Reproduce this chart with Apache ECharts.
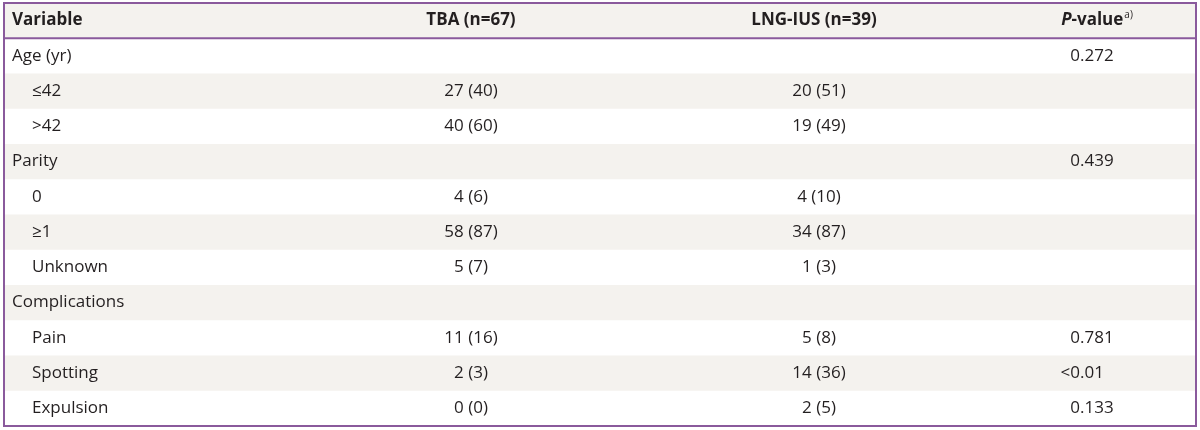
<!DOCTYPE html>
<html>
<head>
<meta charset="utf-8">
<script src="https://cdn.jsdelivr.net/npm/echarts@6/dist/echarts.min.js"></script>
<style>
html,body{margin:0;padding:0;background:#fff;}
#chart{width:1200px;height:430px;}
</style>
</head>
<body>
<div id="chart"></div>
<script>
// ---- data ----
const headers = ["Variable", "TBA (n=67)", "LNG-IUS (n=39)", "P-value"];
const variables = ["Age (yr)", "≤42", ">42", "Parity", "0", "≥1", "Unknown", "Complications", "Pain", "Spotting", "Expulsion"];
const indentLevel = [0, 1, 1, 0, 1, 1, 1, 0, 1, 1, 1];
const tbaValues = ["", "27 (40)", "40 (60)", "", "4 (6)", "58 (87)", "5 (7)", "", "11 (16)", "2 (3)", "0 (0)"];
const lngValues = ["", "20 (51)", "19 (49)", "", "4 (10)", "34 (87)", "1 (3)", "", "5 (8)", "14 (36)", "2 (5)"];
const pValues = ["0.272", "", "", "0.439", "", "", "", "", "0.781", "<0.01", "0.133"];
const pSuperscript = "a)";

// ---- layout / style (not data) ----
const rowKeys = ["header"].concat(variables.map((v, i) => "r" + i));
const COL = { varX: 12, indentX: 32, tbaC: 471, lngC: 819, lngHeadC: 814, pDec: 1080, pHeadC: 1097 };
const TXT = "#231f20";
const STRIPE = "#f4f2ee";
const PURPLE = "#8a5a9c";
const FONT = "'Open Sans', 'Noto Sans', sans-serif";
const FS = 17;

const chart = echarts.init(document.getElementById('chart'), null, { renderer: 'canvas' });

function txt(text, x, y, align, bold) {
  return {
    type: 'text',
    style: {
      text: text, x: x, y: y,
      align: align, verticalAlign: 'middle',
      textAlign: align, textVerticalAlign: 'middle',
      fill: TXT,
      font: (bold ? 'bold ' : '') + FS + 'px ' + FONT
    }
  };
}

function renderItem(params, api) {
  const row = api.value(1);
  const c = api.coord([4, row]);
  const band = api.size([0, 1])[1];
  const cy = c[1];
  const top = cy - band / 2;
  const yT = cy;
  const X = v => api.coord([v, row])[0];
  const children = [];
  if (row % 2 === 0) {
    children.push({
      type: 'rect',
      shape: { x: params.coordSys.x, y: top, width: params.coordSys.width, height: band },
      style: { fill: STRIPE }
    });
  }
  if (row === 0) {
    children.push(txt(headers[0], X(COL.varX), yT, 'left', true));
    children.push(txt(headers[1], X(COL.tbaC), yT, 'center', true));
    children.push(txt(headers[2], X(COL.lngHeadC), yT, 'center', true));
    children.push({
      type: 'text',
      style: {
        text: '{i|P}{b|-value}{s|' + pSuperscript + '}',
        x: X(COL.pHeadC), y: yT,
        align: 'center', verticalAlign: 'middle',
        textAlign: 'center', textVerticalAlign: 'middle',
        rich: {
          i: { font: 'italic bold ' + FS + 'px ' + FONT, fill: TXT },
          b: { font: 'bold ' + FS + 'px ' + FONT, fill: TXT },
          s: { font: '10px ' + FONT, fill: TXT, verticalAlign: 'top', padding: [0, 0, 10, 1] }
        }
      }
    });
    children.push({
      type: 'line',
      shape: { x1: params.coordSys.x, y1: top + band, x2: params.coordSys.x + params.coordSys.width, y2: top + band },
      style: { stroke: PURPLE, lineWidth: 2 }
    });
  } else {
    const i = row - 1;
    children.push(txt(variables[i], X(indentLevel[i] ? COL.indentX : COL.varX), yT, 'left', false));
    if (tbaValues[i]) children.push(txt(tbaValues[i], X(COL.tbaC), yT, 'center', false));
    if (lngValues[i]) children.push(txt(lngValues[i], X(COL.lngC), yT, 'center', false));
    if (pValues[i]) {
      const s = pValues[i];
      const k = s.indexOf('.');
      children.push(txt(s.slice(0, k), X(COL.pDec), yT, 'right', false));
      children.push(txt(s.slice(k), X(COL.pDec), yT, 'left', false));
    }
  }
  return { type: 'group', children: children };
}

const option = {
  animation: false,
  backgroundColor: '#ffffff',
  grid: { left: 4, right: 4, top: 3, bottom: 4, show: true, borderColor: PURPLE, borderWidth: 2, backgroundColor: 'transparent', z: 10 },
  xAxis: { type: 'value', min: 4, max: 1196, show: false },
  yAxis: { type: 'category', data: rowKeys, inverse: true, show: false, boundaryGap: true },
  series: [{
    type: 'custom',
    renderItem: renderItem,
    clip: false,
    encode: { x: 0, y: 1 },
    data: rowKeys.map((k, i) => [4, i])
  }]
};
chart.setOption(option);
</script>
</body>
</html>
